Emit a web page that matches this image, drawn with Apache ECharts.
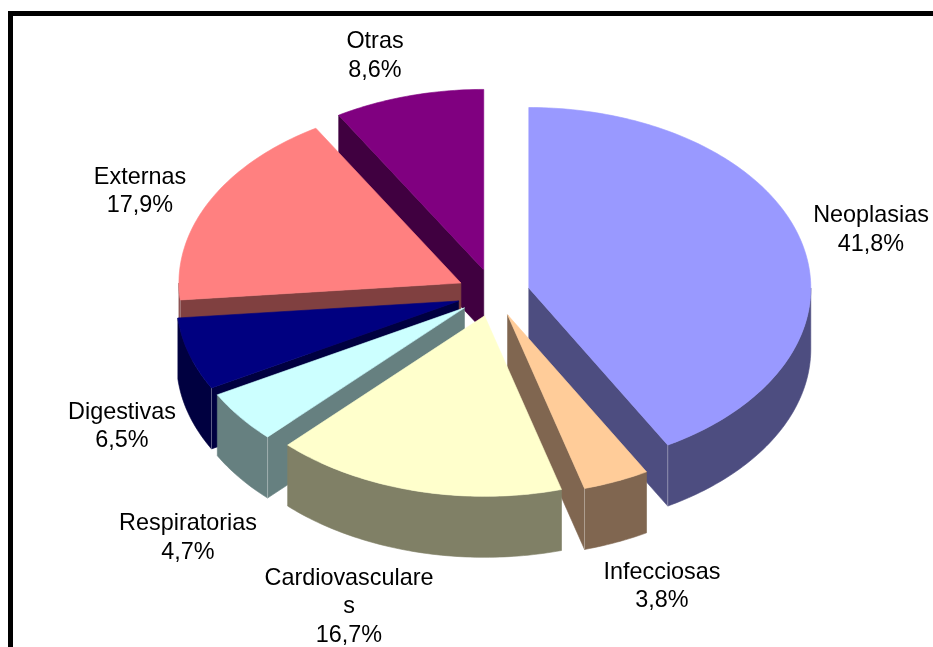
<!DOCTYPE html>
<html>
<head>
<meta charset="utf-8">
<style>html,body{margin:0;padding:0;background:#fff}#c{width:933px;height:647px}</style>
<script src="https://cdn.jsdelivr.net/npm/echarts@6/dist/echarts.min.js"></script>
</head>
<body>
<div id="c"></div>
<script>
const categories = ['Neoplasias','Infecciosas','Cardiovasculares','Respiratorias','Digestivas','Externas','Otras'];
const values = [41.8, 3.8, 16.7, 4.7, 6.5, 17.9, 8.6];
const topColors = ['#9999FF','#FFCC99','#FFFFCC','#CCFFFF','#000080','#FF8080','#800080'];
const sideColors = ['#4D4D80','#806650','#808066','#668080','#000040','#804040','#400040'];
const labelCenters = [[871,230],[662,586.5],[349,607],[188,538],[122,426.5],[140,191.5],[375,56]];

const PIE = {cx:493.5, cy:294.5, rx:282, ry:180.5, depth:61, ex:36.5, eyBack:25.5, eyFront:22};
const FONT = {size:23.4, line:28.2, family:'"Liberation Sans", Arial, sans-serif', wrap:178};
const total = values.reduce((a,b)=>a+b,0);
const rad = d => d*Math.PI/180;
function startAngle(i){ let s=0; for(let k=0;k<i;k++) s+=values[k]; return s/total*360; }

function arcPoints(ax,ay,a0,a1){
  const pts=[]; const n=Math.max(2,Math.ceil(Math.abs(a1-a0)));
  for(let k=0;k<=n;k++){ const t=rad(a0+(a1-a0)*k/n);
    pts.push([ax+PIE.rx*Math.sin(t), ay-PIE.ry*Math.cos(t)]); }
  return pts;
}
function poly(points,fill,z2){
  return {type:'polygon',z2:z2,shape:{points:points},style:{fill:fill,stroke:fill,lineWidth:0.6}};
}
function renderItem(params,api){
  const i=params.dataIndex, v=api.value(0);
  const a0=startAngle(i), a1=a0+v/total*360, mid=rad((a0+a1)/2);
  const ax=PIE.cx+PIE.ex*Math.sin(mid);
  const c=Math.cos(mid), ay=PIE.cy-(c>0?PIE.eyBack:PIE.eyFront)*c;
  const z=Math.round(ay)*10, d=PIE.depth, side=sideColors[i];
  const children=[];
  const ext=p=>[p[0],p[1]+d];
  const arc=arcPoints(ax,ay,a0,a1);
  const seams=[];
  // radial walls that face the viewer
  const wall=(a,normal)=>{
    if(-Math.cos(rad(normal))>0){
      const e=arcPoints(ax,ay,a,a)[0];
      children.push(poly([[ax,ay],e,ext(e),[ax,ay+d]],side,z));
      seams.push(e);
    }
  };
  wall(a0,a0-90); wall(a1,a1+90);
  // outer wall: front half of the rim
  const lo=Math.max(a0,90), hi=Math.min(a1,270);
  if(hi>lo){
    const rim=arcPoints(ax,ay,lo,hi);
    children.push(poly(rim.concat(rim.map(ext).reverse()),side,z+1));
    seams.forEach(e=>{
      if(Math.abs(e[0]-rim[0][0])<0.5||Math.abs(e[0]-rim[rim.length-1][0])<0.5){
        children.push({type:'line',z2:z+1,shape:{x1:e[0],y1:e[1],x2:e[0],y2:e[1]+d},
          style:{stroke:'rgba(255,255,255,0.35)',lineWidth:1}});
      }
    });
  }
  children.push(poly([[ax,ay]].concat(arc),topColors[i],z+2));
  children.push({type:'text',z2:100000,style:{
    text:categories[i]+'\n'+v.toFixed(1).replace('.',',')+'%',
    x:labelCenters[i][0],y:labelCenters[i][1],
    width:FONT.wrap,overflow:'break',
    align:'center',verticalAlign:'middle',
    fontSize:FONT.size,lineHeight:FONT.line,fontFamily:FONT.family,fill:'#000'}});
  return {type:'group',children:children};
}
const chart=echarts.init(document.getElementById('c'),null,{renderer:'canvas'});
chart.setOption({
  animation:false,
  backgroundColor:'#fff',
  graphic:[
    {type:'rect',shape:{x:8,y:11,width:925,height:5},style:{fill:'#000'}},
    {type:'rect',shape:{x:8,y:11,width:5,height:636},style:{fill:'#000'}}
  ],
  series:[{type:'custom',coordinateSystem:'none',renderItem:renderItem,clip:false,
    data:values.map((v,i)=>({name:categories[i],value:[v]}))}]
});
</script>
</body>
</html>
